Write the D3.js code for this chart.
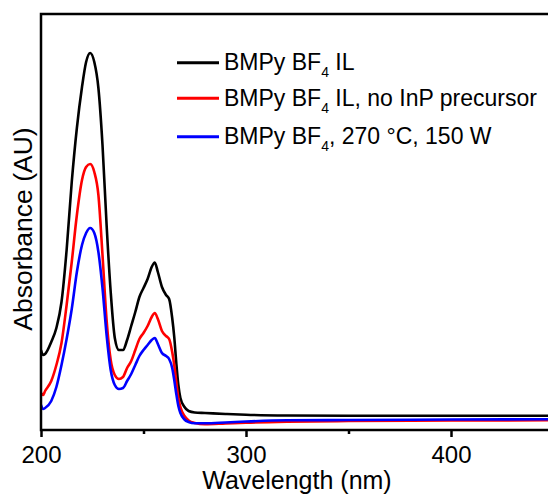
<!DOCTYPE html>
<html>
<head>
<meta charset="utf-8">
<script src="https://cdn.jsdelivr.net/npm/d3@7"></script>
<style>
  html, body { margin: 0; padding: 0; background: #fff; }
  svg { display: block; font-family: Arial, "Liberation Sans", sans-serif; }
</style>
</head>
<body>
<svg id="chart" width="548" height="494"></svg>
<script>
// Wavelength grid (nm)
const wavelengths = [200, 201, 202, 205, 207.5, 210, 212.5, 215, 217.5, 220, 222, 224, 226, 228, 230, 232, 234, 236, 238, 240, 242, 244, 246, 248, 250, 252, 254, 255.5, 257, 259, 261, 262.5, 264, 265, 266, 267, 268, 270, 272, 275, 280, 290, 300, 320, 350, 400, 450];

// Absorbance (arbitrary units)
const ilAbs = [0.80, 0.75, 0.76, 0.88, 1.02, 1.28, 1.80, 2.48, 3.02, 3.43, 3.68, 3.77, 3.68, 3.42, 2.85, 2.05, 1.38, 0.92, 0.80, 0.80, 0.90, 1.04, 1.18, 1.33, 1.42, 1.51, 1.63, 1.675, 1.58, 1.43, 1.35, 1.31, 1.12, 0.93, 0.67, 0.45, 0.32, 0.23, 0.19, 0.175, 0.17, 0.16, 0.152, 0.145, 0.142, 0.143, 0.142];
const noPrecursorAbs = [0.37, 0.35, 0.39, 0.49, 0.65, 0.87, 1.25, 1.68, 2.15, 2.50, 2.63, 2.66, 2.58, 2.35, 1.75, 1.10, 0.70, 0.55, 0.51, 0.53, 0.62, 0.69, 0.80, 0.91, 0.97, 1.04, 1.13, 1.17, 1.11, 0.99, 0.94, 0.91, 0.78, 0.65, 0.48, 0.32, 0.23, 0.14, 0.095, 0.07, 0.057, 0.065, 0.073, 0.083, 0.09, 0.095, 0.097];
const heatedAbs = [0.25, 0.21, 0.22, 0.29, 0.43, 0.65, 0.91, 1.21, 1.58, 1.85, 1.97, 2.02, 1.97, 1.78, 1.42, 0.95, 0.60, 0.45, 0.41, 0.42, 0.49, 0.56, 0.65, 0.74, 0.80, 0.85, 0.90, 0.92, 0.86, 0.77, 0.74, 0.71, 0.62, 0.50, 0.36, 0.24, 0.17, 0.105, 0.08, 0.067, 0.067, 0.075, 0.085, 0.097, 0.10, 0.105, 0.107];

const seriesNames = ["BMPy BF|4| IL", "BMPy BF|4| IL, no InP precursor", "BMPy BF|4|, 270 °C, 150 W"];
const seriesColors = ["#000000", "#ff0000", "#0000ff"];
const seriesValues = [ilAbs, noPrecursorAbs, heatedAbs];

const xMajorTicks = [200, 300, 400];
const xMinorTicks = [250, 350];
const xDomain = [200, 450];
const yDomain = [0, 4.16];

(function () {
const svg = d3.select("#chart");
const mLeft = 41, mRight = 553.5, mTop = 14, mBottom = 430;

const x = d3.scaleLinear().domain(xDomain).range([mLeft, mRight]);
const y = d3.scaleLinear().domain(yDomain).range([mBottom, mTop]);

svg.append("defs").append("clipPath").attr("id", "clip")
  .append("rect").attr("x", mLeft).attr("y", mTop).attr("width", mRight - mLeft).attr("height", mBottom - mTop);

const line = d3.line()
  .x(d => x(d[0]))
  .y(d => y(d[1]))
  .curve(d3.curveMonotoneX);

const plot = svg.append("g").attr("clip-path", "url(#clip)");
seriesValues.forEach((vals, i) => {
  plot.append("path")
    .datum(wavelengths.map((w, j) => [w, vals[j]]))
    .attr("fill", "none")
    .attr("stroke", seriesColors[i])
    .attr("stroke-width", 2.6)
    .attr("stroke-linejoin", "round")
    .attr("d", line);
});

// Frame
svg.append("rect")
  .attr("x", mLeft).attr("y", mTop)
  .attr("width", mRight - mLeft).attr("height", mBottom - mTop)
  .attr("fill", "none").attr("stroke", "#000").attr("stroke-width", 2.5);

// X axis
const xAxis = d3.axisBottom(x).tickValues(xMajorTicks).tickSize(7).tickPadding(9).tickFormat(d3.format("d"));
const gx = svg.append("g").attr("transform", `translate(0,${mBottom})`).call(xAxis);
gx.select(".domain").remove();
gx.selectAll(".tick line").attr("stroke", "#000").attr("stroke-width", 2.5);
gx.selectAll(".tick text").attr("font-size", 24).attr("fill", "#000").attr("font-family", "Arial, 'Liberation Sans', sans-serif");

const xMinor = d3.axisBottom(x).tickValues(xMinorTicks).tickSize(4).tickFormat("");
const gxm = svg.append("g").attr("transform", `translate(0,${mBottom})`).call(xMinor);
gxm.select(".domain").remove();
gxm.selectAll(".tick line").attr("stroke", "#000").attr("stroke-width", 2.5);

// Axis labels
svg.append("text")
  .attr("x", 297).attr("y", 489)
  .attr("text-anchor", "middle")
  .attr("font-size", 25)
  .text("Wavelength (nm)");

svg.append("text")
  .attr("transform", "translate(31.5,229) rotate(-90)")
  .attr("text-anchor", "middle")
  .attr("font-size", 26.5)
  .text("Absorbance (AU)");

// Legend
const legend = svg.append("g");
const legendY = [62.7, 98.3, 136.7];
seriesNames.forEach((name, i) => {
  const g = legend.append("g").attr("transform", `translate(0,${legendY[i]})`);
  g.append("line").attr("x1", 177).attr("x2", 219).attr("y1", 0).attr("y2", 0)
    .attr("stroke", seriesColors[i]).attr("stroke-width", 3);
  const parts = name.split("|");
  const t = g.append("text").attr("x", 224).attr("y", 7.5).attr("font-size", 23).attr("fill", "#000");
  t.append("tspan").text(parts[0]);
  t.append("tspan").attr("font-size", 14).attr("dy", 7).text(parts[1]);
  t.append("tspan").attr("dy", -7).text(parts[2]);
});
})();
</script>
</body>
</html>
